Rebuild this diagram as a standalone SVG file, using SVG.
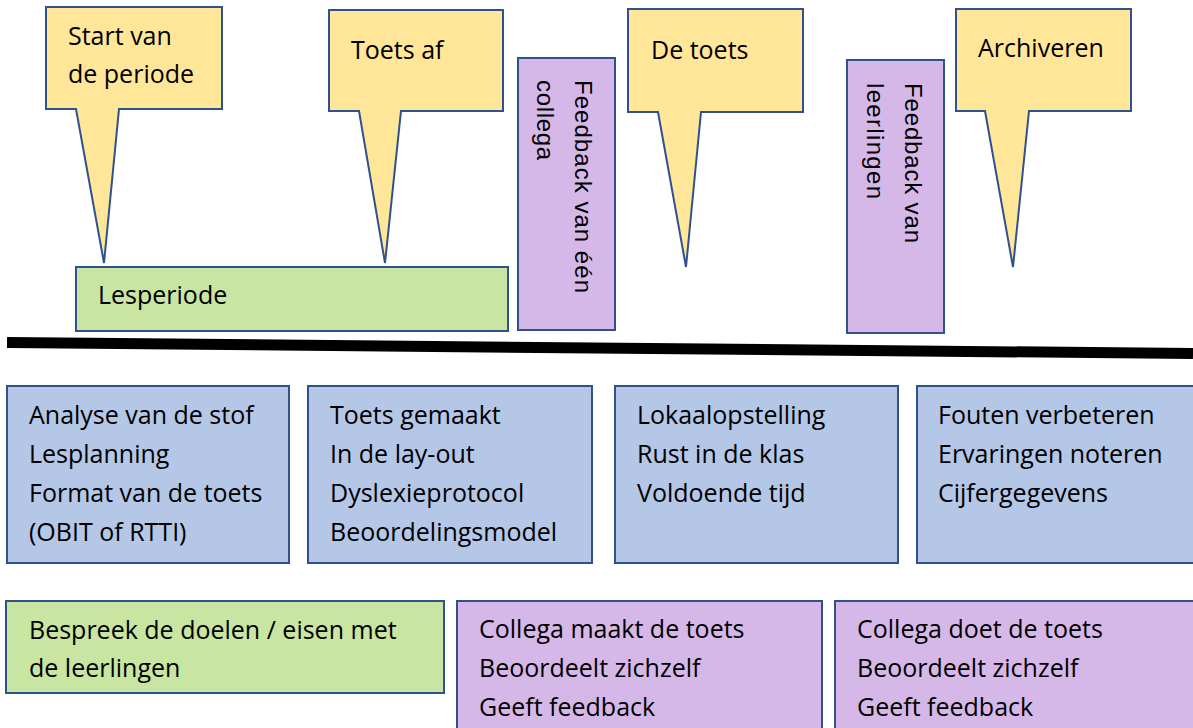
<svg xmlns="http://www.w3.org/2000/svg" width="1193" height="728" viewBox="0 0 1193 728">
<style>
  .box { stroke: #2F528F; stroke-width: 2; }
  .yellow { fill: #FFE699; }
  .green { fill: #C8E5A2; }
  .blue { fill: #B4C7E7; }
  .purple { fill: #D5B8E8; }
  text { font-family: "Open Sans", "Liberation Sans", Arial, sans-serif; font-size: 25px; fill: #000; }
  text.vert { font-family: "Liberation Sans", Arial, sans-serif; font-size: 24px; }
</style>
<rect width="1193" height="728" fill="#fff"/>

<g id="callout-start">
  <path class="box yellow" d="M46,7 H222 V109 H119 L104,263 L76,109 H46 Z"/>
  <text x="68" y="45">Start van</text>
  <text x="68" y="83">de periode</text>
</g>
<g id="callout-toets-af">
  <path class="box yellow" d="M329,10 H503 V111 H401 L385,263 L359,111 H329 Z"/>
  <text x="351" y="59">Toets af</text>
</g>
<g id="callout-de-toets">
  <path class="box yellow" d="M628,9 H803 V112 H701 L686,267 L658,112 H628 Z"/>
  <text x="651" y="59">De toets</text>
</g>
<g id="callout-archiveren">
  <path class="box yellow" d="M956,9 H1131 V111 H1029 L1013,267 L985,111 H956 Z"/>
  <text x="978" y="57">Archiveren</text>
</g>

<g id="lesperiode">
  <rect class="box green" x="76" y="267" width="432" height="64"/>
  <text x="98" y="304">Lesperiode</text>
</g>

<g id="feedback-collega">
  <rect class="box purple" x="518" y="58" width="97" height="272"/>
  <text class="vert" transform="translate(575,80) rotate(90)">
    <tspan x="0" y="0" textLength="213" lengthAdjust="spacing">Feedback van één</tspan>
    <tspan x="0" y="38" textLength="80" lengthAdjust="spacing">collega</tspan>
  </text>
</g>
<g id="feedback-leerlingen">
  <rect class="box purple" x="847" y="60" width="97" height="273"/>
  <text class="vert" transform="translate(905,83) rotate(90)">
    <tspan x="0" y="0" textLength="160" lengthAdjust="spacing">Feedback van</tspan>
    <tspan x="0" y="38" textLength="116" lengthAdjust="spacing">leerlingen</tspan>
  </text>
</g>

<g id="timeline">
  <line x1="7" y1="342.5" x2="1193" y2="353.5" stroke="#000" stroke-width="11"/>
</g>

<g id="box-voorbereiding">
  <rect class="box blue" x="7" y="386" width="282" height="177"/>
  <text x="29" y="424">Analyse van de stof</text>
  <text x="29" y="463">Lesplanning</text>
  <text x="29" y="502">Format van de toets</text>
  <text x="29" y="541">(OBIT of RTTI)</text>
</g>
<g id="box-toets-maken">
  <rect class="box blue" x="308" y="386" width="284" height="177"/>
  <text x="330" y="424">Toets gemaakt</text>
  <text x="330" y="463">In de lay-out</text>
  <text x="330" y="502">Dyslexieprotocol</text>
  <text x="330" y="541">Beoordelingsmodel</text>
</g>
<g id="box-afname">
  <rect class="box blue" x="615" y="386" width="283" height="177"/>
  <text x="637" y="424">Lokaalopstelling</text>
  <text x="637" y="463">Rust in de klas</text>
  <text x="637" y="502">Voldoende tijd</text>
</g>
<g id="box-archief">
  <rect class="box blue" x="917" y="386" width="290" height="177"/>
  <text x="938" y="424">Fouten verbeteren</text>
  <text x="938" y="463">Ervaringen noteren</text>
  <text x="938" y="502">Cijfergegevens</text>
</g>

<g id="box-bespreek">
  <rect class="box green" x="6" y="601" width="438" height="92"/>
  <text x="29" y="639">Bespreek de doelen / eisen met</text>
  <text x="29" y="677">de leerlingen</text>
</g>
<g id="box-collega-maakt">
  <rect class="box purple" x="457" y="601" width="365" height="140"/>
  <text x="479" y="638">Collega maakt de toets</text>
  <text x="479" y="677">Beoordeelt zichzelf</text>
  <text x="479" y="716">Geeft feedback</text>
</g>
<g id="box-collega-doet">
  <rect class="box purple" x="835" y="601" width="370" height="140"/>
  <text x="857" y="638">Collega doet de toets</text>
  <text x="857" y="677">Beoordeelt zichzelf</text>
  <text x="857" y="716">Geeft feedback</text>
</g>
</svg>
